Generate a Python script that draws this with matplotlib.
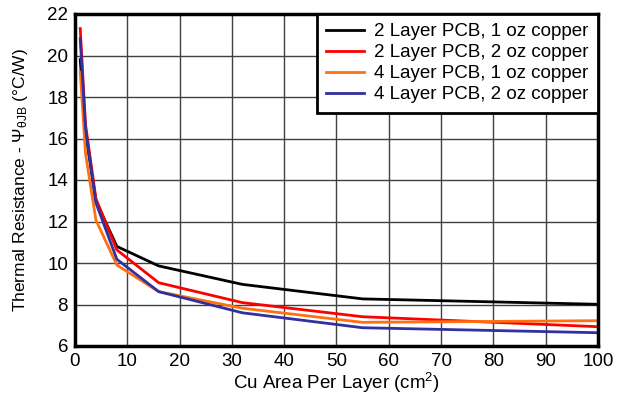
import matplotlib
matplotlib.use("Agg")
from matplotlib import pyplot as plt

plt.rcParams['font.family'] = ['Liberation Sans', 'DejaVu Sans']
plt.rcParams['mathtext.fontset'] = 'custom'
plt.rcParams['mathtext.rm'] = 'Liberation Sans'
plt.rcParams['mathtext.it'] = 'Liberation Sans'

area = [1, 2, 4, 8, 16, 32, 55, 100]
two_layer_1oz = [19.8, 16.3, 13.0, 10.8, 9.86, 8.97, 8.27, 8.01]
two_layer_2oz = [21.3, 16.7, 13.1, 10.63, 9.05, 8.09, 7.41, 6.93]
four_layer_1oz = [19.2, 15.3, 12.07, 9.9, 8.62, 7.82, 7.14, 7.22]
four_layer_2oz = [20.8, 16.5, 12.9, 10.18, 8.62, 7.6, 6.88, 6.64]

labels = ["2 Layer PCB, 1 oz copper", "2 Layer PCB, 2 oz copper",
          "4 Layer PCB, 1 oz copper", "4 Layer PCB, 2 oz copper"]
colors = ["black", "#ff0000", "#ff7010", "#3030a0"]

fig = plt.figure(figsize=(6.27, 3.98), dpi=100)
ax = fig.add_axes([75 / 627, 52 / 398, 523 / 627, 332 / 398])

for y, lab, c in zip([two_layer_1oz, two_layer_2oz, four_layer_1oz, four_layer_2oz], labels, colors):
    ax.plot(area, y, color=c, lw=2, label=lab)

ax.set_xlim(0, 100)
ax.set_ylim(6, 22)
ax.set_xticks(range(0, 101, 10))
ax.set_yticks(range(6, 23, 2))
ax.grid(True, color="#404040", lw=1)
ax.tick_params(length=0, labelsize=13.5, pad=5)
for s in ax.spines.values():
    s.set_linewidth(2.5)

ax.set_xlabel(r"Cu Area Per Layer (cm$^2$)", fontsize=13.5, labelpad=1)
ax.set_ylabel(r"Thermal Resistance - Ψ$_{\mathrm{\theta JB}}$ (°C/W)", fontsize=12.5, labelpad=12)

leg = ax.legend(loc="upper right", fontsize=13.5, fancybox=False, framealpha=1,
                edgecolor="black", borderaxespad=0, handlelength=2.0,
                handletextpad=0.55, labelspacing=0.2, borderpad=0.5)
leg.get_frame().set_linewidth(2)

fig.savefig("out.png", dpi=100)
